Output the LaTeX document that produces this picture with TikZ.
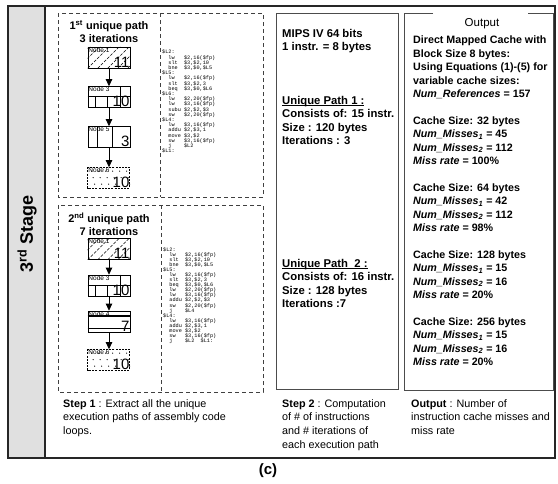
\documentclass[tikz,border=0pt]{standalone}
\usepackage{fontspec}
\setmainfont{Liberation Sans}
\newfontfamily\codefont{Liberation Mono}
\usetikzlibrary{arrows.meta}
\newcommand\myul[1]{\setbox0\hbox{#1}\rlap{\rule[-1.6pt]{\wd0}{0.7pt}}\box0}
\tikzset{
  frame/.style={draw=black!85, line width=1.2pt},
  dbox/.style={draw=black!75, dash pattern=on 4pt off 3pt, line width=0.8pt},
  sbox/.style={draw=black!70, line width=1pt},
  nbox/.style={draw=black, line width=0.7pt, minimum width=42pt, minimum height=21pt, inner sep=0pt},
  nlab/.style={font=\fontsize{6.5}{7}\selectfont, inner sep=0.6pt, anchor=north west},
  nnum/.style={font=\fontsize{15}{15}\selectfont, inner sep=0.8pt, anchor=south east},
  flowarr/.style={-{Triangle[length=7pt,width=6.5pt]}, line width=0.8pt},
  codetxt/.style={font=\codefont\fontsize{5.2}{5.2}\selectfont, align=left, anchor=north west, inner sep=0pt},
  ttl/.style={font=\fontsize{11}{13}\selectfont\bfseries, align=center, inner sep=0pt},
  midtxt/.style={font=\fontsize{11.3}{13.5}\selectfont\bfseries, align=left, anchor=north west, inner sep=0pt},
  rtxt/.style={font=\fontsize{10.7}{13.4}\selectfont\bfseries, align=left, anchor=north west, inner sep=0pt},
  steptxt/.style={font=\fontsize{10.8}{13.8}\selectfont, align=left, anchor=north west, inner sep=0pt},
}
\newcommand\pathatch[1]{%
  \begin{scope}
    \clip (#1.south west) rectangle (#1.north east);
    \foreach \d in {-30,-20,...,40}
      \draw[line width=0.6pt, dash pattern=on 3pt off 1.5pt] ([xshift=\d pt]#1.south west) -- ++(25,-25);
  \end{scope}}
\newcommand\patbrick[1]{%
  \begin{scope}[shift={(#1.north west)}]
    \draw[line width=0.5pt] (0,10.5) -- (42,10.5) (33,0) -- (33,21) (8,10.5) -- (8,21) (20,10.5) -- (20,21);
  \end{scope}}
\newcommand\patvstripe[1]{%
  \begin{scope}[shift={(#1.north west)}]
    \draw[line width=0.5pt] (10,0) -- (10,21) (25,0) -- (25,21);
  \end{scope}}
\newcommand\pathstripe[1]{%
  \begin{scope}[shift={(#1.north west)}]
    \draw[line width=1.6pt] (0,5.5) -- (42,5.5) (0,18) -- (42,18);
  \end{scope}}
\newcommand\patdots[1]{%
  \begin{scope}[shift={(#1.north west)}]
    \foreach \xx in {4,11,...,39} \foreach \yy in {4,10.5,17} \fill ({\xx+mod(\yy,2)*3},\yy) circle[radius=0.6pt];
    \draw[line width=0.6pt, dash pattern=on 2pt off 1.2pt] (0,0) rectangle (42,21);
  \end{scope}}
\begin{document}
\begin{tikzpicture}[x=1pt,y=-1pt]
\path[use as bounding box] (0,0) rectangle (558,483);
% outer frame and stage column
\fill[black!12] (8,6) rectangle (45,458);
\draw[frame] (8,6) rectangle (555,458);
\draw[frame] (45,6) -- (45,458);
\node[font=\fontsize{18}{18}\selectfont\bfseries, rotate=90, inner sep=0pt] (stage) at (27,234) {3\textsuperscript{rd} Stage};
% dashed path boxes
\draw[dbox] (58,13) rectangle (263,197);
\draw[dbox] (160,13) -- (160,197);
\draw[dbox] (58,205) rectangle (263,392);
\draw[dbox] (161,205) -- (161,392);
% solid boxes
\draw[sbox] (276,13) rectangle (398,389);
\draw[sbox] (433,13) -- (404,13) -- (404,390) -- (553,390) -- (553,13) -- (528,13);
\node[font=\fontsize{11.5}{12}\selectfont, inner sep=0pt] (outtitle) at (482,24) {Output};

% ---- path 1 ----
\node[ttl] (t1) at (109,31.5) {1\textsuperscript{st} unique path\\3 iterations};
\node[nbox] (a1) at (109,57.5) {};
\node[nbox] (a3) at (109,97) {};
\node[nbox] (a5) at (109,137) {};
\node[nbox, draw=none] (a6) at (109,178) {};
\pathatch{a1}\patbrick{a3}\patvstripe{a5}\patdots{a6}
\node[nlab] (a1l) at (a1.north west) {Node 1};
\node[nnum] (a1n) at (a1.south east) {11};
\node[nlab] (a3l) at (a3.north west) {Node 3};
\node[nnum] (a3n) at (a3.south east) {10};
\node[nlab] (a5l) at (a5.north west) {Node 5};
\node[nnum] (a5n) at (a5.south east) {3};
\node[nlab] (a6l) at (a6.north west) {Node 6};
\node[nnum] (a6n) at (a6.south east) {10};
\draw[flowarr] (a1.south) -- (a3.north);
\draw[flowarr] (a3.south) -- (a5.north);
\draw[flowarr] (a5.south) -- (a6.north);
\node[codetxt] (code1) at (162,50) {\$L2:\\
~~lw~~~\$2,16(\$fp)\\
~~slt~~\$3,\$2,10\\
~~bne~~\$3,\$0,\$L5\\
\$L5:\\
~~lw~~~\$2,16(\$fp)\\
~~slt~~\$3,\$2,3\\
~~beq~~\$3,\$0,\$L6\\
\$L6:\\
~~lw~~~\$2,20(\$fp)\\
~~lw~~~\$3,16(\$fp)\\
~~subu~\$2,\$2,\$3\\
~~sw~~~\$2,20(\$fp)\\
\$L4:\\
~~lw~~~\$3,16(\$fp)\\
~~addu~\$2,\$3,1\\
~~move~\$3,\$2\\
~~sw~~~\$3,16(\$fp)\\
~~j~~~~\$L2\\
\$L1:};

% ---- path 2 ----
\node[ttl] (t2) at (109,224.5) {2\textsuperscript{nd} unique path\\7 iterations};
\node[nbox] (b1) at (109,249) {};
\node[nbox] (b3) at (109,285.5) {};
\node[nbox] (b4) at (109,321.5) {};
\node[nbox, draw=none] (b6) at (109,360) {};
\pathatch{b1}\patbrick{b3}\pathstripe{b4}\patdots{b6}
\node[nlab] (b1l) at (b1.north west) {Node 1};
\node[nnum] (b1n) at (b1.south east) {11};
\node[nlab] (b3l) at (b3.north west) {Node 3};
\node[nnum] (b3n) at (b3.south east) {10};
\node[nlab] (b4l) at (b4.north west) {Node 4};
\node[nnum] (b4n) at (b4.south east) {7};
\node[nlab] (b6l) at (b6.north west) {Node 6};
\node[nnum] (b6n) at (b6.south east) {10};
\draw[flowarr] (b1.south) -- (b3.north);
\draw[flowarr] (b3.south) -- (b4.north);
\draw[flowarr] (b4.south) -- (b6.north);
\node[codetxt, font=\codefont\fontsize{5.2}{5.05}\selectfont] (code2) at (163,247.5) {\$L2:\\
~~lw~~~\$2,16(\$fp)\\
~~slt~~\$3,\$2,10\\
~~bne~~\$3,\$0,\$L5\\
\$L5:\\
~~lw~~~\$2,16(\$fp)\\
~~slt~~\$3,\$2,3\\
~~beq~~\$3,\$0,\$L6\\
~~lw~~~\$2,20(\$fp)\\
~~lw~~~\$3,16(\$fp)\\
~~addu~\$2,\$2,\$3\\
~~sw~~~\$2,20(\$fp)\\
~~j~~~~\$L4\\
\$L4:\\
~~lw~~~\$3,16(\$fp)\\
~~addu~\$2,\$3,1\\
~~move~\$3,\$2\\
~~sw~~~\$3,16(\$fp)\\
~~j~~~~\$L2~~\$L1:};

% ---- middle box ----
\node[midtxt] (m1) at (282,28.8) {MIPS IV 64 bits\\1 instr. = 8 bytes};
\node[midtxt] (m2) at (282,95.8) {\myul{Unique Path 1 :}\\Consists of: 15 instr.\\Size : 120 bytes\\Iterations : 3};
\node[midtxt] (m3) at (282,258.8) {\myul{Unique Path~ 2 :}\\Consists of: 16 instr.\\Size : 128 bytes\\Iterations :7};

% ---- right box ----
\node[rtxt] (r1) at (413,36) {Direct Mapped Cache with\\Block Size 8 bytes:\\Using Equations (1)-(5) for\\variable cache sizes:\\\textit{Num\_References} = 157\\[13.4pt]
Cache Size: 32 bytes\\\textit{Num\_Misses\textsubscript{1}} = 45\\\textit{Num\_Misses\textsubscript{2}} = 112\\\textit{Miss rate} = 100\%\\[13.4pt]
Cache Size: 64 bytes\\\textit{Num\_Misses\textsubscript{1}} = 42\\\textit{Num\_Misses\textsubscript{2}} = 112\\\textit{Miss rate} = 98\%\\[13.4pt]
Cache Size: 128 bytes\\\textit{Num\_Misses\textsubscript{1}} = 15\\\textit{Num\_Misses\textsubscript{2}} = 16\\\textit{Miss rate} = 20\%\\[13.4pt]
Cache Size: 256 bytes\\\textit{Num\_Misses\textsubscript{1}} = 15\\\textit{Num\_Misses\textsubscript{2}} = 16\\\textit{Miss rate} = 20\%};

% ---- step captions ----
\node[steptxt] (s1) at (63,399) {\textbf{Step 1} : Extract all the unique\\execution paths of assembly code\\loops.};
\node[steptxt] (s2) at (282,399) {\textbf{Step 2} : Computation\\of \# of instructions\\and \# iterations of\\each execution path};
\node[steptxt] (s3) at (411,399) {\textbf{Output} : Number of\\instruction cache misses and\\miss rate};

\node[font=\fontsize{15}{15}\selectfont\bfseries, inner sep=0pt] (cap) at (268,471) {(c)};
\end{tikzpicture}
\end{document}
